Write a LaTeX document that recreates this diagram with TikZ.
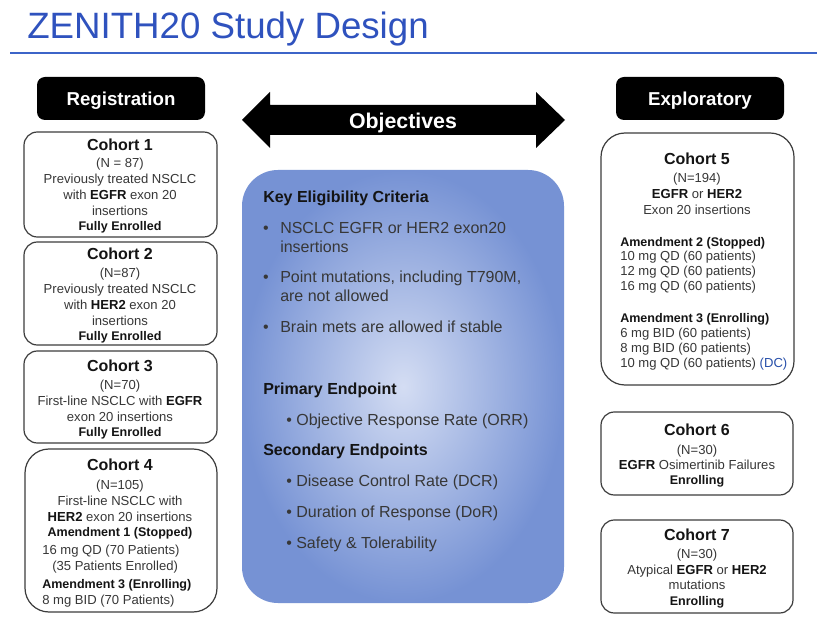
\documentclass[tikz,border=0pt]{standalone}
\usepackage{fontspec}
\setmainfont{Liberation Sans}
\usetikzlibrary{fit}
\definecolor{ttlblue}{RGB}{47,82,190}
\definecolor{lineblue}{RGB}{60,100,200}
\definecolor{txt}{RGB}{55,55,55}
\definecolor{dark}{RGB}{20,20,20}
\definecolor{boxgray}{RGB}{60,60,60}
\definecolor{objout}{RGB}{118,146,212}
\definecolor{objin}{RGB}{212,221,243}
\definecolor{dcblue}{RGB}{40,80,170}
\begin{document}
\begin{tikzpicture}[x=0.75pt,y=-0.75pt,
  cbox/.style={draw=boxgray, line width=0.9pt, rounded corners=10pt, inner sep=0pt},
  cboxbig/.style={cbox, rounded corners=18pt},
  hdr/.style={fill=black, rounded corners=6pt, inner sep=0pt},
  hdrtxt/.style={inner sep=0pt, text=white, font=\fontsize{14}{16}\selectfont\bfseries, text height=10pt, text depth=0pt},
  ctitle/.style={inner sep=0pt, text=dark, font=\fontsize{12}{14}\selectfont\bfseries, text height=8.6pt, text depth=0pt},
  sm/.style={inner sep=0pt, text=txt, font=\fontsize{9.8}{11}\selectfont, text height=7pt, text depth=0pt},
  smb/.style={inner sep=0pt, text=dark, font=\fontsize{9.4}{11}\selectfont\bfseries, text height=6.8pt, text depth=0pt},
  big/.style={inner sep=0pt, text=txt, font=\fontsize{12}{14}\selectfont, text height=8.6pt, text depth=0pt},
  bigb/.style={inner sep=0pt, text=dark, font=\fontsize{12}{14}\selectfont\bfseries, text height=8.6pt, text depth=0pt}
]
\newcommand{\bk}[1]{{\color{dark}\bfseries #1}}
\useasboundingbox (0,0) rectangle (817,623);
\fill[white] (0,0) rectangle (817,623);

% title
\node[anchor=west, inner sep=0pt, text=ttlblue, font=\fontsize{27.5}{30}\selectfont, text height=20pt, text depth=0pt] (title) at (27,25) {ZENITH20 Study Design};
\coordinate (la) at (10,53);
\coordinate (lb) at (817,53);
\draw[lineblue, line width=1.9pt] (la) -- (lb);

% headers
\node[hdr, fit={(37,77)(205,120)}] (reg) {};
\node[hdrtxt] (regt) at (reg.center) {Registration};
\node[hdr, fit={(616,77)(784,120)}] (exp) {};
\node[hdrtxt] (expt) at (exp.center) {Exploratory};

% objectives arrow
\fill[black] (242,120) -- (270,92) -- (270,105) -- (536,105) -- (536,92) -- (565,120)
  -- (536,148) -- (536,135) -- (270,135) -- (270,148) -- cycle;
\node[inner sep=0pt, text=white, font=\fontsize{16}{18}\selectfont\bfseries, text height=11.5pt, text depth=0pt] (objt) at (403,121) {Objectives};

% central box
\node[fit={(242,170)(564,603)}, inner sep=0pt, rounded corners=27pt, shade, inner color=objin, outer color=objout] (obj) {};
\node[bigb, anchor=west] (k0) at (263,197) {Key Eligibility Criteria};
\node[big] (kb1) at (266,228) {\textbullet};
\node[big, anchor=west] (k1) at (280,228) {NSCLC EGFR or HER2 exon20};
\node[big, anchor=west] (k1b) at (280,247) {insertions};
\node[big] (kb2) at (266,277) {\textbullet};
\node[big, anchor=west] (k2) at (280,277) {Point mutations, including T790M,};
\node[big, anchor=west] (k2b) at (280,296) {are not allowed};
\node[big] (kb3) at (266,327) {\textbullet};
\node[big, anchor=west] (k3) at (280,327) {Brain mets are allowed if stable};
\node[bigb, anchor=west] (p0) at (263,389) {Primary Endpoint};
\node[big, anchor=west] (p1) at (286,420) {\textbullet\ Objective Response Rate (ORR)};
\node[bigb, anchor=west] (s0) at (263,450) {Secondary Endpoints};
\node[big, anchor=west] (s1) at (286,481) {\textbullet\ Disease Control Rate (DCR)};
\node[big, anchor=west] (s2) at (286,512) {\textbullet\ Duration of Response (DoR)};
\node[big, anchor=west] (s3) at (286,543) {\textbullet\ Safety \& Tolerability};

% cohort 1
\node[cbox, fit={(24,132)(217,237)}] (c1) {};
\node[ctitle] (c1t) at (120,145) {Cohort 1};
\node[sm] (c1a) at (120,163) {(N = 87)};
\node[sm] (c1b) at (120,179) {Previously treated NSCLC};
\node[sm] (c1c) at (120,195) {with \bk{EGFR} exon 20};
\node[sm] (c1d) at (120,211) {insertions};
\node[smb] (c1e) at (120,226) {Fully Enrolled};

% cohort 2
\node[cbox, fit={(24,242)(217,345)}] (c2) {};
\node[ctitle] (c2t) at (120,254) {Cohort 2};
\node[sm] (c2a) at (120,273) {(N=87)};
\node[sm] (c2b) at (120,289) {Previously treated NSCLC};
\node[sm] (c2c) at (120,305) {with \bk{HER2} exon 20};
\node[sm] (c2d) at (120,321) {insertions};
\node[smb] (c2e) at (120,336) {Fully Enrolled};

% cohort 3
\node[cbox, fit={(24,351)(217,443)}] (c3) {};
\node[ctitle] (c3t) at (120,366) {Cohort 3};
\node[sm] (c3a) at (120,385) {(N=70)};
\node[sm] (c3b) at (120,401) {First-line NSCLC with \bk{EGFR}};
\node[sm] (c3c) at (120,417) {exon 20 insertions};
\node[smb] (c3d) at (120,432) {Fully Enrolled};

% cohort 4
\node[cboxbig, fit={(25,449)(217,612)}] (c4) {};
\node[ctitle] (c4t) at (120,465) {Cohort 4};
\node[sm] (c4a) at (120,485) {(N=105)};
\node[sm] (c4b) at (120,501) {First-line NSCLC with};
\node[sm] (c4c) at (120,517) {\bk{HER2} exon 20 insertions};
\node[smb] (c4d) at (120,532) {Amendment 1 (Stopped)};
\node[sm, anchor=west] (c4e) at (42,550) {16 mg QD (70 Patients)};
\node[sm, anchor=west] (c4f) at (52,566) {(35 Patients Enrolled)};
\node[smb, anchor=west] (c4g) at (42,584) {Amendment 3 (Enrolling)};
\node[sm, anchor=west] (c4h) at (42,600) {8 mg BID (70 Patients)};

% cohort 5
\node[cboxbig, fit={(601,133)(794,385)}] (c5) {};
\node[ctitle] (c5t) at (697,159) {Cohort 5};
\node[sm] (c5a) at (697,178) {(N=194)};
\node[sm] (c5b) at (697,194) {\bk{EGFR} or \bk{HER2}};
\node[sm] (c5c) at (697,210) {Exon 20 insertions};
\node[smb, anchor=west] (c5d) at (620,242) {Amendment 2 (Stopped)};
\node[sm, anchor=west] (c5e) at (620,256) {10 mg QD (60 patients)};
\node[sm, anchor=west] (c5f) at (620,271) {12 mg QD (60 patients)};
\node[sm, anchor=west] (c5g) at (620,286) {16 mg QD (60 patients)};
\node[smb, anchor=west] (c5h) at (620,318) {Amendment 3 (Enrolling)};
\node[sm, anchor=west] (c5i) at (620,333) {6 mg BID (60 patients)};
\node[sm, anchor=west] (c5j) at (620,348) {8 mg BID (60 patients)};
\node[sm, anchor=west] (c5k) at (620,363) {10 mg QD (60 patients) {\color{dcblue}(DC)}};

% cohort 6
\node[cbox, fit={(601,412)(793,495)}] (c6) {};
\node[ctitle] (c6t) at (697,430) {Cohort 6};
\node[sm] (c6a) at (697,450) {(N=30)};
\node[sm] (c6b) at (697,465) {\bk{EGFR} Osimertinib Failures};
\node[smb] (c6c) at (697,480) {Enrolling};

% cohort 7
\node[cbox, fit={(601,520)(793,613)}] (c7) {};
\node[ctitle] (c7t) at (697,535) {Cohort 7};
\node[sm] (c7a) at (697,554) {(N=30)};
\node[sm] (c7b) at (697,570) {Atypical \bk{EGFR} or \bk{HER2}};
\node[sm] (c7c) at (697,585) {mutations};
\node[smb] (c7d) at (697,601) {Enrolling};
\end{tikzpicture}
\end{document}
